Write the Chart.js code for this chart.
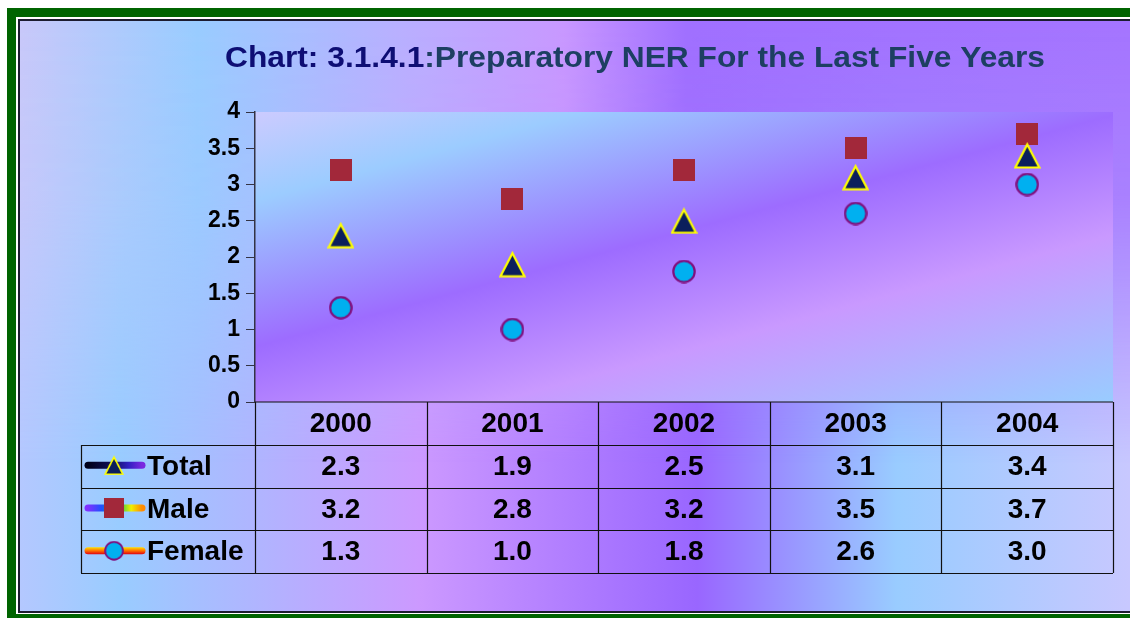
<!DOCTYPE html>
<html>
<head>
<meta charset="utf-8">
<title>Preparatory NER For the Last Five Years</title>
<script src="https://cdn.jsdelivr.net/npm/chart.js@4.4.1/dist/chart.umd.min.js"></script>
<style>
    html, body { margin: 0; padding: 0; background: #fff; }
    canvas { display: block; }
</style>
</head>
<body>
<canvas id="ner-chart" width="1130" height="618"></canvas>
<script>
const years = ['2000', '2001', '2002', '2003', '2004'];
const totalNer = [2.3, 1.9, 2.5, 3.1, 3.4];
const maleNer = [3.2, 2.8, 3.2, 3.5, 3.7];
const femaleNer = [1.3, 1.0, 1.8, 2.6, 3.0];
const yTicks = [0, 0.5, 1, 1.5, 2, 2.5, 3, 3.5, 4];

const FONT = 'Arial, "Liberation Sans", sans-serif';
const TITLE_A = 'Chart: 3.1.4.1';
const TITLE_B = ':Preparatory NER For the Last Five Years';


function makeMarker(size, draw) {
    const c = document.createElement('canvas');
    c.width = size;
    c.height = size;
    draw(c.getContext('2d'), size);
    return c;
}

const triangleMarker = makeMarker(27, function(ctx, s) {
    ctx.beginPath();
    ctx.moveTo(s / 2, 2.5);
    ctx.lineTo(s - 1.5, s - 1.5);
    ctx.lineTo(1.5, s - 1.5);
    ctx.closePath();
    ctx.fillStyle = '#0b1f5c';
    ctx.fill();
    ctx.lineWidth = 2.2;
    ctx.strokeStyle = '#ffff00';
    ctx.stroke();
});

const squareMarker = makeMarker(22, function(ctx, s) {
    ctx.fillStyle = '#a2283a';
    ctx.fillRect(0, 0, s, s);
});

const circleMarker = makeMarker(24, function(ctx, s) {
    ctx.beginPath();
    ctx.arc(s / 2, s / 2, s / 2 - 1.3, 0, Math.PI * 2);
    ctx.fillStyle = '#00b0f0';
    ctx.fill();
    ctx.lineWidth = 2.2;
    ctx.strokeStyle = '#80107f';
    ctx.stroke();
});


function addStops(grad, stops) {
    stops.forEach(function(s) { grad.addColorStop(s[0], s[1]); });
    return grad;
}

let pageLayer = null;

function paintPage(ctx, x0, y0, w, h) {
    // lower band of colours
    ctx.fillStyle = addStops(ctx.createLinearGradient(x0, 0, x0 + w, 0), [
        [0, '#b4c8ff'], [0.09, '#99ccff'], [0.36, '#cc99ff'],
        [0.61, '#9966ff'], [0.79, '#99ccff'], [1, '#c8c8ff']
    ]);
    ctx.fillRect(x0, y0, w, h);

    // upper band, faded out towards the bottom
    if (!pageLayer) {
        pageLayer = document.createElement('canvas');
        pageLayer.width = w;
        pageLayer.height = h;
        const lc = pageLayer.getContext('2d');
        lc.fillStyle = addStops(lc.createLinearGradient(0, 0, w, 0), [
            [0, '#c8c8fa'], [0.16, '#99ccff'], [0.34, '#b8b0ff'],
            [0.49, '#c898ff'], [0.6, '#a070ff'], [1, '#a474ff']
        ]);
        lc.fillRect(0, 0, w, h);
        lc.globalCompositeOperation = 'destination-in';
        lc.fillStyle = addStops(lc.createLinearGradient(0, 0, 0, h), [
            [0, 'rgba(0,0,0,1)'], [0.3, 'rgba(0,0,0,0.85)'], [0.75, 'rgba(0,0,0,0)']
        ]);
        lc.fillRect(0, 0, w, h);
    }
    ctx.drawImage(pageLayer, x0, y0);
}

function paintPlotArea(ctx, area) {
    const w = area.right - area.left;
    const h = area.bottom - area.top;
    const k = (w * 0.27 + h) / (1 + 0.27 * 0.27);
    ctx.fillStyle = addStops(ctx.createLinearGradient(area.left, area.top,
        area.left + 0.27 * k, area.top + k), [
        [0, '#cccbff'], [0.17, '#9cccff'], [0.45, '#9d6cff'],
        [0.68, '#c999ff'], [1, '#99ccff']
    ]);
    ctx.fillRect(area.left, area.top, w, h);
}

const backdropPlugin = {
    id: 'backdrop',
    beforeDraw(chart) {
        const ctx = chart.ctx;
        const W = chart.width, H = chart.height;
        ctx.save();
        ctx.fillStyle = '#ffffff';
        ctx.fillRect(0, 0, W, H);
        ctx.fillStyle = '#006400';
        ctx.fillRect(7, 8, W - 7, H - 8);
        ctx.fillStyle = '#ffffff';
        ctx.fillRect(16, 17, W - 16, 597);
        ctx.fillStyle = '#1c1c30';
        ctx.fillRect(18, 19, W - 18, 594);
        paintPage(ctx, 20, 21, W - 20, 590);
        paintPlotArea(ctx, chart.chartArea);

        // title in two colours
        ctx.font = 'bold 29px ' + FONT;
        ctx.textBaseline = 'alphabetic';
        ctx.textAlign = 'left';
        const wa = ctx.measureText(TITLE_A).width;
        const wb = ctx.measureText(TITLE_B).width;
        const sx = 820 / (wa + wb);
        ctx.translate(225, 67);
        ctx.scale(sx, 1);
        ctx.fillStyle = '#0e0e74';
        ctx.fillText(TITLE_A, 0, 0);
        ctx.fillStyle = '#1d3f62';
        ctx.fillText(TITLE_B, wa, 0);
        ctx.restore();
    }
};


function keyLine(ctx, x0, x1, y, fill) {
    ctx.save();
    ctx.lineCap = 'round';
    ctx.lineWidth = 7;
    ctx.strokeStyle = fill;
    ctx.beginPath();
    ctx.moveTo(x0, y);
    ctx.lineTo(x1, y);
    ctx.stroke();
    ctx.restore();
}

const tablePlugin = {
    id: 'nerTable',
    afterDraw(chart) {
        const ctx = chart.ctx;
        const area = chart.chartArea;
        const xs = chart.scales.x;
        const colW = (area.right - area.left) / years.length;
        const headTop = area.bottom;
        const headH = 43;
        const rowH = 42.7;
        const legendLeft = 81;

        const keyX0 = 88, keyX1 = 142, keyMid = 114;
        const rows = [
            { label: 'Total', values: totalNer, marker: triangleMarker,
              line: function(y) {
                  return addStops(ctx.createLinearGradient(keyX0, 0, keyX1, 0), [
                      [0, '#000018'], [0.45, '#10105a'], [0.75, '#3020c0'], [1, '#7a28e0']
                  ]);
              } },
            { label: 'Male', values: maleNer, marker: squareMarker,
              line: function(y) {
                  return addStops(ctx.createLinearGradient(keyX0, 0, keyX1, 0), [
                      [0, '#8030ff'], [0.25, '#2050ff'], [0.55, '#00c060'],
                      [0.8, '#f0f000'], [1, '#ff8a00']
                  ]);
              } },
            { label: 'Female', values: femaleNer, marker: circleMarker,
              line: function(y) {
                  return addStops(ctx.createLinearGradient(0, y - 3.5, 0, y + 3.5), [
                      [0, '#ffe000'], [0.5, '#ff7000'], [1, '#e00010']
                  ]);
              } }
        ];

        ctx.save();
        ctx.fillStyle = '#000000';
        ctx.font = 'bold 28px ' + FONT;
        ctx.textAlign = 'center';
        ctx.textBaseline = 'middle';
        years.forEach(function(yr, i) {
            ctx.fillText(yr, xs.getPixelForValue(i), headTop + headH / 2 + 1);
        });

        rows.forEach(function(row, r) {
            const cy = headTop + headH + rowH * r + rowH / 2;
            keyLine(ctx, keyX0, keyX1, cy - 1, row.line(cy - 1));
            ctx.drawImage(row.marker, keyMid - 10, cy - 11, 20, 20);
            ctx.fillStyle = '#000000';
            ctx.textAlign = 'left';
            ctx.fillText(row.label, 147, cy + 1);
            ctx.textAlign = 'center';
            row.values.forEach(function(v, i) {
                ctx.fillText(v.toFixed(1), xs.getPixelForValue(i), cy + 1);
            });
        });

        // grid of the table
        const bottom = headTop + headH + rowH * rows.length;
        ctx.strokeStyle = '#111111';
        ctx.lineWidth = 1.2;
        ctx.beginPath();
        ctx.moveTo(area.left, headTop);
        ctx.lineTo(area.right, headTop);
        for (let r = 0; r <= rows.length; r++) {
            const y = Math.round(headTop + headH + rowH * r) + 0.5;
            ctx.moveTo(legendLeft, y);
            ctx.lineTo(area.right, y);
        }
        ctx.moveTo(legendLeft + 0.5, headTop + headH);
        ctx.lineTo(legendLeft + 0.5, bottom);
        for (let c = 0; c <= years.length; c++) {
            const x = Math.round(area.left + colW * c) + 0.5;
            ctx.moveTo(x, headTop);
            ctx.lineTo(x, bottom);
        }
        ctx.stroke();
        ctx.restore();
    }
};


function initChart() {
    const ctx = document.getElementById('ner-chart').getContext('2d');
    return new Chart(ctx, {
        type: 'line',
        data: {
            labels: years,
            datasets: [{
                label: 'Total',
                data: totalNer,
                showLine: false,
                pointStyle: triangleMarker,
                pointRadius: 12,
                pointHoverRadius: 12
            }, {
                label: 'Male',
                data: maleNer,
                showLine: false,
                pointStyle: squareMarker,
                pointRadius: 11,
                pointHoverRadius: 11
            }, {
                label: 'Female',
                data: femaleNer,
                showLine: false,
                pointStyle: circleMarker,
                pointRadius: 12,
                pointHoverRadius: 12
            }]
        },
        options: {
            responsive: false,
            animation: false,
            devicePixelRatio: 1,
            layout: {
                padding: { left: 155, top: 112, right: 17, bottom: 216 }
            },
            scales: {
                x: {
                    type: 'category',
                    offset: true,
                    display: false
                },
                y: {
                    min: 0,
                    max: 4,
                    afterFit: function(scale) { scale.width = 100; },
                    afterBuildTicks: function(scale) {
                        scale.ticks = yTicks.map(function(v) { return { value: v }; });
                    },
                    ticks: {
                        color: '#000000',
                        padding: 6,
                        font: { family: FONT, size: 23, weight: 'bold' },
                        callback: function(value) { return String(value); }
                    },
                    grid: {
                        drawOnChartArea: false,
                        drawTicks: true,
                        tickLength: 9,
                        color: '#333344'
                    },
                    border: { display: true, color: '#333344', width: 1.5 }
                }
            },
            plugins: {
                legend: { display: false },
                title: { display: false },
                tooltip: { enabled: false }
            }
        },
        plugins: [backdropPlugin, tablePlugin]
    });
}


document.addEventListener('DOMContentLoaded', function() {
    initChart();
});
</script>
</body>
</html>
